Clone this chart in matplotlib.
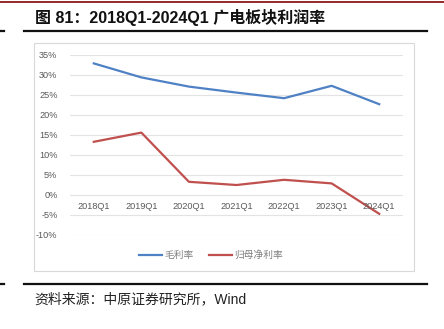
import matplotlib
matplotlib.use("Agg")
import matplotlib.pyplot as plt
from matplotlib.lines import Line2D
from matplotlib.patches import Rectangle

plt.rcParams['font.family'] = ['Liberation Sans', 'Noto Sans CJK SC', 'DejaVu Sans']

quarters = ["2018Q1", "2019Q1", "2020Q1", "2021Q1", "2022Q1", "2023Q1", "2024Q1"]
gross_margin = [32.9, 29.4, 27.1, 25.6, 24.2, 27.3, 22.7]
net_margin = [13.3, 15.6, 3.3, 2.5, 3.8, 2.9, -4.7]
yticks = [-10, -5, 0, 5, 10, 15, 20, 25, 30, 35]

W, H = 444, 329
fig = plt.figure(figsize=(W / 100, H / 100), dpi=100)

def fx(px):
    return px / W

def fy(py):
    return 1 - py / H

# header rule, title and title underline
fig.add_artist(Line2D([0, 1], [fy(2), fy(2)], color="#8B1A1A", lw=1.3))
fig.text(fx(35), fy(17), "图 81：2018Q1-2024Q1 广电板块利润率", fontsize=11.5,
         fontweight="bold", va="center", ha="left", color="#111111")
fig.add_artist(Line2D([fx(24), fx(427)], [fy(30.5), fy(30.5)], color="#111111", lw=1.6))
fig.add_artist(Line2D([0, fx(4)], [fy(30.5), fy(30.5)], color="#111111", lw=1.6))

# chart frame
fig.add_artist(Rectangle((fx(34), fy(271)), fx(414) - fx(34), fy(43) - fy(271),
                         transform=fig.transFigure, fill=False, ec="#D9D9D9", lw=0.8))

ax = fig.add_axes([fx(70), fy(235), fx(403) - fx(70), fy(55) - fy(235)])
ax.set_xlim(-0.5, len(quarters) - 0.5)
ax.set_ylim(-10, 35)
for s in ax.spines.values():
    s.set_visible(False)
ax.set_yticks(yticks)
ax.set_yticklabels([f"{v}%" for v in yticks], fontsize=6.6, color="#595959")
ax.tick_params(axis="y", length=0, pad=9)
ax.set_xticks([])
ax.grid(axis="y", color="#E3E3E3", lw=0.8)
ax.set_axisbelow(True)

x = list(range(len(quarters)))
l1, = ax.plot(x, gross_margin, color="#4F81C5", lw=1.6, label="毛利率")
l2, = ax.plot(x, net_margin, color="#C0504D", lw=1.6, label="归母净利率")

for i, q in enumerate(quarters):
    ax.text(i, -2.9, q, ha="center", va="center", fontsize=6.6, color="#595959")

fig.legend(handles=[l1, l2], loc="center", bbox_to_anchor=(fx(211), fy(255)),
           ncol=2, frameon=False, fontsize=7, labelcolor="#7F7F7F",
           handlelength=2.4, handletextpad=0.2, columnspacing=1.6)

# footer rule and source
fig.add_artist(Line2D([fx(24), fx(427)], [fy(284), fy(284)], color="#111111", lw=1.6))
fig.add_artist(Line2D([0, fx(4)], [fy(284), fy(284)], color="#111111", lw=1.6))
fig.text(fx(34), fy(299), "资料来源：中原证券研究所，Wind", fontsize=10,
         va="center", ha="left", color="#222222")

fig.savefig("out.png", dpi=100)
